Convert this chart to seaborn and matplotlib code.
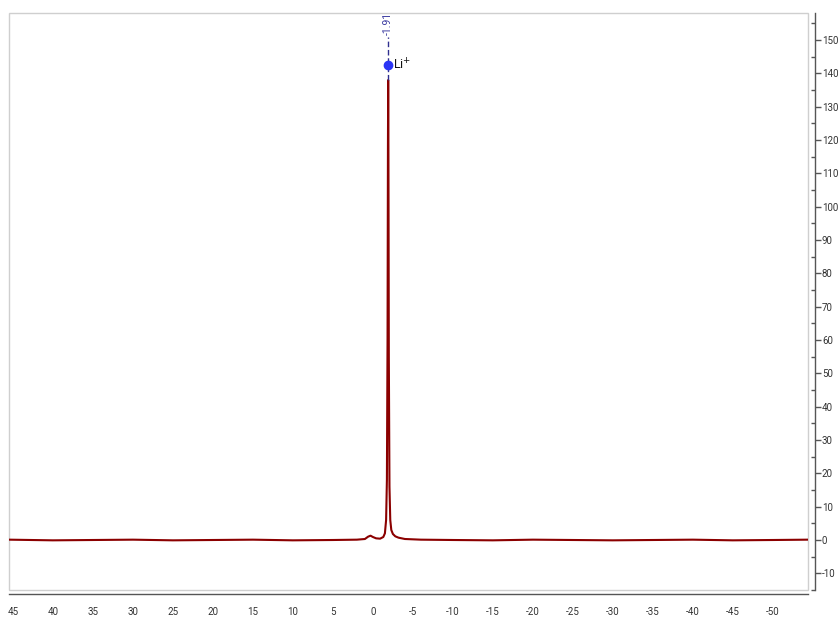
import seaborn as sns
import matplotlib.pyplot as plt
import matplotlib.ticker as mticker
from matplotlib.patches import Rectangle
import pandas as pd

# Spectrum points (ppm, intensity)
ppm = [45.5, 40, 35, 30, 25, 20, 15, 10, 5, 2, 1.0, 0.6, 0.3, 0.0, -0.4, -0.9,
       -1.3, -1.5, -1.65, -1.75, -1.83, -1.88, -1.91, -1.94, -1.99, -2.07,
       -2.17, -2.3, -2.5, -2.8, -3.2, -4.0, -6, -10, -15, -20, -25, -30, -35,
       -40, -45, -50, -54.4]
intensity = [0.1, -0.1, 0.0, 0.1, -0.1, 0.0, 0.1, -0.1, 0.0, 0.1, 0.3, 1.0, 1.3,
             0.9, 0.5, 0.4, 0.9, 2.0, 6.0, 18.0, 60.0, 118.0, 138.0, 118.0, 55.0,
             16.0, 6.0, 3.0, 1.8, 1.1, 0.7, 0.3, 0.1, 0.0, -0.1, 0.1, 0.0, -0.1,
             0.0, 0.1, -0.1, 0.0, 0.1]

peak_ppm = -1.91
peak_label = "-1.91"
peak_name = "Li$^{+}$"

df = pd.DataFrame({"ppm": ppm, "intensity": intensity})

sns.set_style("white")
plt.rcParams["font.family"] = ["Roboto", "DejaVu Sans"]
plt.rcParams["axes.unicode_minus"] = False

fig = plt.figure(figsize=(8.38, 6.17), dpi=100)
ax = fig.add_axes([9 / 838, 27 / 617, 799 / 838, 577 / 617])

sns.lineplot(data=df, x="ppm", y="intensity", color="#8B0000", linewidth=1.5,
             estimator=None, sort=False, ax=ax)

ax.set_xlim(45.5, -54.4)
ax.set_ylim(-15, 158.1)
ax.set_xlabel("")
ax.set_ylabel("")

# light grey frame around the plotting area
ax.add_patch(Rectangle((0, 0), 1, 1, transform=ax.transAxes, fill=False,
                       edgecolor="#cfcfcf", linewidth=1.0, clip_on=False))

for side in ["top", "left"]:
    ax.spines[side].set_visible(False)
ax.spines["bottom"].set_position(("outward", 3))
ax.spines["right"].set_position(("outward", 5))
for side in ["bottom", "right"]:
    ax.spines[side].set_color("#555555")
    ax.spines[side].set_linewidth(1.0)

ax.yaxis.tick_right()
ax.xaxis.set_minor_locator(mticker.MultipleLocator(2.5))
ax.yaxis.set_minor_locator(mticker.MultipleLocator(5))
fmt = mticker.FuncFormatter(lambda v, p: "%d" % round(v))
ax.xaxis.set_major_formatter(fmt)
ax.yaxis.set_major_formatter(fmt)
ax.set_xticks([v for v in range(45, -55, -5)])
ax.set_yticks([v for v in range(-10, 160, 10)])

ax.tick_params(axis="x", which="major", direction="out", length=4, width=1,
               color="#555555", labelsize=7, labelcolor="#333333", pad=5)
ax.tick_params(axis="x", which="minor", direction="out", length=2, width=1,
               color="#555555")
ax.tick_params(axis="y", which="major", direction="out", length=4, width=1,
               color="#555555", labelsize=7, labelcolor="#333333", pad=1,
               right=True, left=False)
ax.tick_params(axis="y", which="minor", direction="in", length=3, width=1,
               color="#555555", right=True, left=False)

# peak annotation
ax.plot([peak_ppm, peak_ppm], [138, 151], color="#2f2f8f", linewidth=1,
        linestyle=(0, (4, 2)), clip_on=False)
ax.plot([peak_ppm], [142.5], marker="o", markersize=6, color="#2b35f5",
        clip_on=False, zorder=5)
ax.text(peak_ppm, 151.5, peak_label, rotation=90, ha="center", va="bottom",
        fontsize=7.5, color="#3a3aa0", clip_on=False)
ax.text(peak_ppm - 0.6, 142.5, peak_name, ha="left", va="center",
        fontsize=9, color="#111111")

fig.savefig("out.png", dpi=100)
